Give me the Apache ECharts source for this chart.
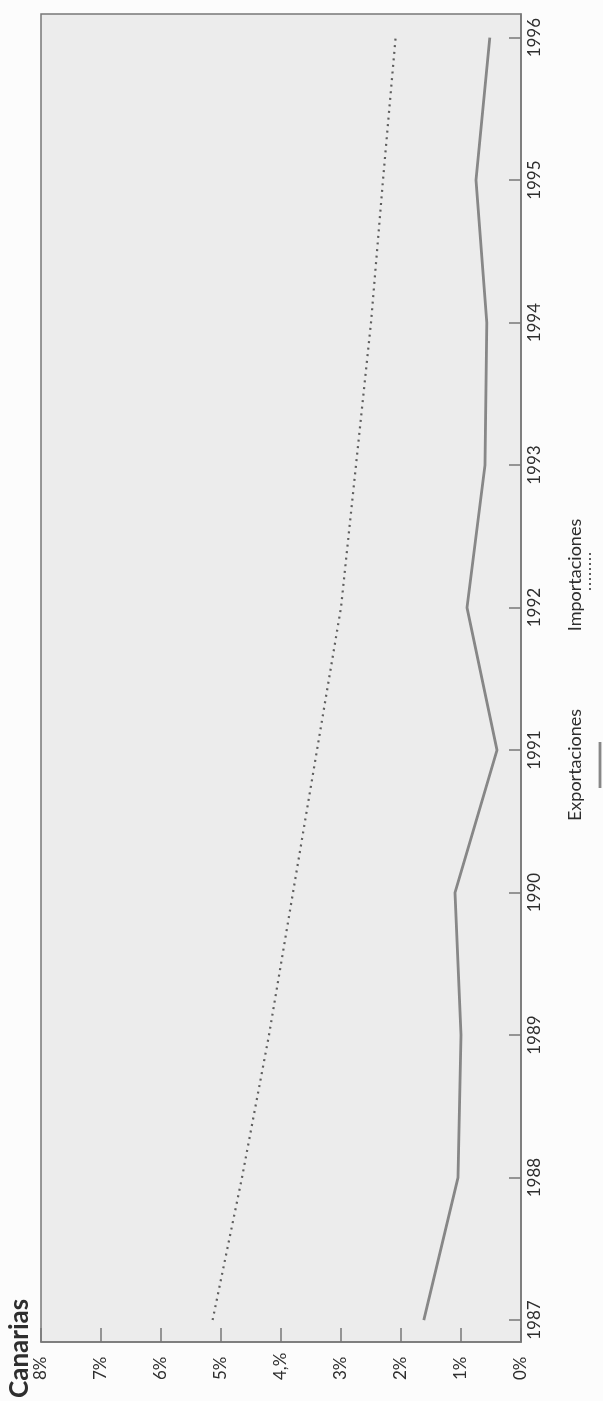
<!DOCTYPE html>
<html>
<head>
<meta charset="utf-8">
<script src="https://cdn.jsdelivr.net/npm/echarts@6/dist/echarts.min.js"></script>
<style>
  html, body { margin: 0; padding: 0; background: #fcfcfc; }
  #chart { width: 603px; height: 1401px; }
</style>
</head>
<body>
<div id="chart"></div>
<script>
// Years on the (vertical) category scale
const years = [1987, 1988, 1989, 1990, 1991, 1992, 1993, 1994, 1995, 1996];
// Share (%) of exports and imports
const exportaciones = [1.62, 1.05, 1.0, 1.1, 0.4, 0.9, 0.6, 0.57, 0.75, 0.52];
const importaciones = [5.14, 4.65, 4.2, 3.8, 3.4, 3.0, 2.75, 2.5, 2.3, 2.09];
// Percentage tick labels, 0 to 8
const pctLabels = ['0%', '1%', '2%', '3%', '4,%', '5%', '6%', '7%', '8%'];

const chart = echarts.init(document.getElementById('chart'), null, { renderer: 'canvas' });

const axisGray = '#777';
const textGray = '#2e2e2e';
const font = 'Lato';

chart.setOption({
  animation: false,
  backgroundColor: '#fcfcfc',
  grid: {
    left: 41, right: 82, top: 14, bottom: 59,
    show: true,
    backgroundColor: '#ececec',
    borderColor: axisGray,
    borderWidth: 1.5
  },
  xAxis: {
    type: 'value',
    min: 0, max: 8, interval: 1,
    inverse: true,
    position: 'bottom',
    splitLine: { show: false },
    axisLine: { show: true, lineStyle: { color: axisGray, width: 1.5 } },
    axisTick: { show: true, inside: true, length: 14, lineStyle: { color: axisGray, width: 1.5 } },
    axisLabel: {
      rotate: 90,
      align: 'left',
      verticalAlign: 'middle',
      margin: 38,
      color: textGray,
      fontFamily: font,
      fontSize: 17,
      showMinLabel: true,
      showMaxLabel: true,
      formatter: v => pctLabels[Math.round(v)]
    }
  },
  yAxis: {
    type: 'value',
    min: 1986.846, max: 1996.166,
    position: 'right',
    splitLine: { show: false },
    axisLine: { show: true, lineStyle: { color: axisGray, width: 1.5 } },
    axisTick: { show: true, inside: true, length: 12, customValues: years, lineStyle: { color: axisGray, width: 1.5 } },
    axisLabel: {
      customValues: years,
      rotate: 90,
      align: 'center',
      verticalAlign: 'top',
      margin: 5,
      color: textGray,
      fontFamily: font,
      fontSize: 17,
      formatter: v => String(Math.round(v))
    }
  },
  series: [
    {
      name: 'Exportaciones',
      type: 'line',
      showSymbol: false,
      data: years.map((y, i) => [exportaciones[i], y]),
      lineStyle: { color: '#878787', width: 2.8 }
    },
    {
      name: 'Importaciones',
      type: 'line',
      showSymbol: false,
      data: years.map((y, i) => [importaciones[i], y]),
      lineStyle: { color: '#5e5e5e', width: 2.2, type: [2, 4.6] }
    }
  ],
  graphic: [
    {
      type: 'text', x: 20, y: 1398, rotation: Math.PI / 2,
      style: {
        text: 'Canarias', fill: textGray,
        fontFamily: font, fontWeight: 'bold', fontSize: 26,
        align: 'left', verticalAlign: 'middle',
        textAlign: 'left', textVerticalAlign: 'middle'
      }
    },
    {
      type: 'text', x: 575, y: 765, rotation: Math.PI / 2,
      style: {
        text: 'Exportaciones', fill: textGray,
        fontFamily: font, fontSize: 18,
        align: 'center', verticalAlign: 'middle',
        textAlign: 'center', textVerticalAlign: 'middle'
      }
    },
    {
      type: 'line',
      shape: { x1: 600, y1: 742, x2: 600, y2: 788 },
      style: { stroke: '#878787', lineWidth: 2.8 }
    },
    {
      type: 'text', x: 575, y: 575, rotation: Math.PI / 2,
      style: {
        text: 'Importaciones', fill: textGray,
        fontFamily: font, fontSize: 18,
        align: 'center', verticalAlign: 'middle',
        textAlign: 'center', textVerticalAlign: 'middle'
      }
    },
    {
      type: 'line',
      shape: { x1: 590, y1: 553, x2: 590, y2: 593 },
      style: { stroke: '#5e5e5e', lineWidth: 2, lineDash: [2, 3] }
    }
  ]
});
</script>
</body>
</html>
